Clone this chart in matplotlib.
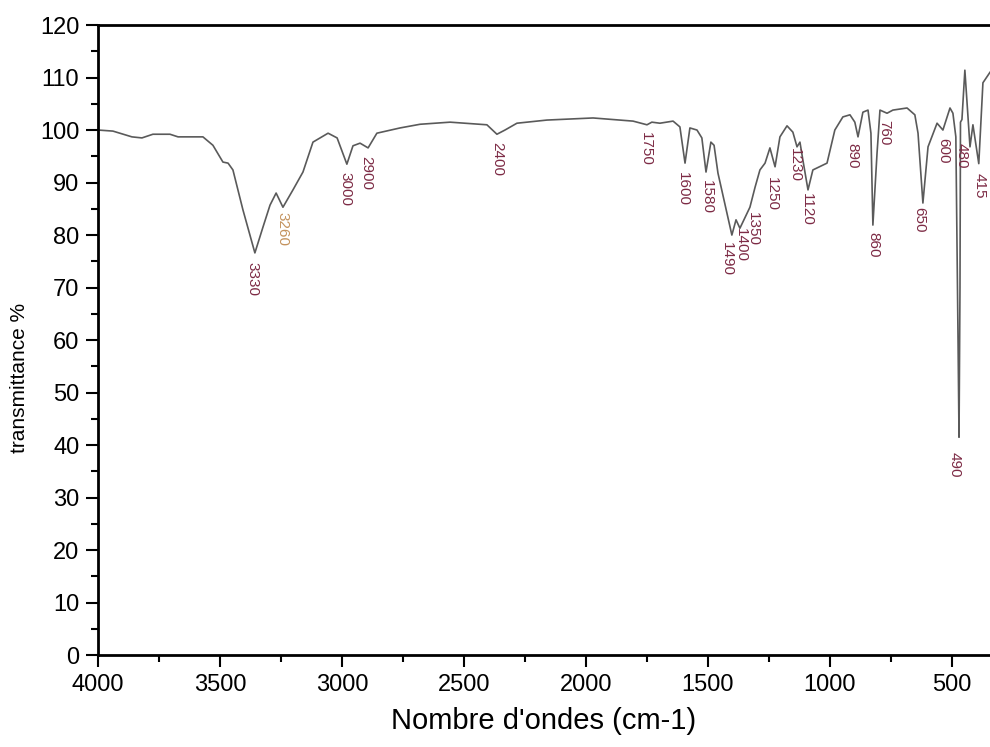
#!/usr/bin/env python
# coding: utf-8

import matplotlib
matplotlib.use('Agg')
import matplotlib.pyplot as plt
from matplotlib.ticker import MultipleLocator

# spectrum: wavenumber (cm-1) / transmittance (%)
wavenumber = [4000, 3939, 3861, 3820, 3775, 3705, 3672, 3570, 3529, 3488, 3467, 3447,
	3406, 3357, 3324, 3295, 3270, 3242, 3201, 3160, 3119, 3057, 3020, 2980, 2955,
	2926, 2893, 2857, 2762, 2680, 2557, 2406, 2365, 2332, 2283, 2160, 1971, 1807,
	1750, 1730, 1697, 1643, 1615, 1594, 1574, 1545, 1525, 1508, 1488, 1475, 1459,
	1402, 1385, 1369, 1328, 1307, 1287, 1266, 1246, 1225, 1205, 1176, 1152, 1135,
	1123, 1111, 1090, 1070, 1012, 980, 947, 918, 898, 885, 865, 844, 832, 824, 807,
	795, 766, 742, 684, 652, 639, 619, 598, 561, 537, 508, 496, 484, 475, 471, 467,
	465, 459, 447, 426, 414, 390, 373, 344]
transmittance = [100.0, 99.8, 98.7, 98.5, 99.2, 99.2, 98.7, 98.7, 97.1, 93.9, 93.7, 92.4,
	84.8, 76.6, 81.5, 85.7, 88.0, 85.3, 88.6, 92.0, 97.7, 99.4, 98.5, 93.5, 97.0,
	97.5, 96.6, 99.4, 100.4, 101.1, 101.5, 101.0, 99.2, 100.0, 101.3, 101.9, 102.3, 101.7,
	101.0, 101.5, 101.3, 101.7, 100.6, 93.7, 100.4, 100.0, 98.5, 92.0, 97.7, 97.1, 91.8,
	80.0, 82.9, 81.3, 85.3, 89.1, 92.4, 93.7, 96.6, 93.0, 98.7, 100.8, 99.6, 96.8,
	97.7, 94.3, 88.6, 92.4, 93.7, 100.0, 102.5, 102.9, 101.5, 98.7, 103.4, 103.8, 99.4, 81.9, 95.6,
	103.8, 103.2, 103.8, 104.2, 102.9, 99.4, 86.1, 96.8, 101.3, 100.0, 104.2, 103.2, 98.7, 60.0, 41.5, 70.0,
	101.5, 102.0, 111.4, 96.8, 101.0, 93.6, 109.0, 111.0]

# peak labels: text, x (cm-1), y of the top of the text (%)
peak_text = ['3330', '3260', '3000', '2900', '2400', '1750', '1600', '1580', '1490', '1400',
	'1350', '1250', '1230', '1120', '890', '860', '760', '650', '600', '480', '415', '490']
peak_x = [3365, 3242, 2984, 2902, 2365, 1754, 1602, 1504, 1422, 1366,
	1314, 1238, 1143, 1094, 910, 824, 779, 635, 537, 459, 385, 488]
peak_y = [74.9, 84.4, 92.0, 95.0, 97.7, 99.6, 92.0, 90.5, 78.7, 81.3,
	84.4, 91.0, 96.6, 88.0, 97.5, 80.6, 101.9, 85.3, 98.5, 97.5, 91.8, 38.7]

def main():
	plt.rcParams['font.family'] = ['Liberation Sans', 'DejaVu Sans']
	fig = plt.figure(figsize=(9.9, 7.47), dpi=100)
	ax = fig.add_axes([0.099, 0.123, 0.901, 0.8435])

	ax.plot(wavenumber, transmittance, color='#5a5a5a', lw=1.2)

	for t, x, y in zip(peak_text, peak_x, peak_y):
		col = '#c4935e' if t == '3260' else '#7d2b45'
		ax.text(x, y, t, rotation=270, ha='center', va='top', fontsize=11, color=col)

	ax.set_xlim(4000, 344)
	ax.set_ylim(0, 120)
	ax.xaxis.set_major_locator(MultipleLocator(500))
	ax.xaxis.set_minor_locator(MultipleLocator(250))
	ax.yaxis.set_major_locator(MultipleLocator(10))
	ax.yaxis.set_minor_locator(MultipleLocator(5))
	ax.tick_params(which='major', direction='out', length=8.5, width=1.5, labelsize=17, pad=5)
	ax.tick_params(which='minor', direction='out', length=5, width=1.5)
	ax.spines['right'].set_visible(False)
	for s in ['left', 'bottom', 'top']:
		ax.spines[s].set_linewidth(2)

	ax.set_xlabel("Nombre d'ondes (cm-1)", fontsize=21, labelpad=8)
	ax.set_ylabel('transmittance %', fontsize=15)
	ax.yaxis.set_label_coords(-0.077, 0.44)

	fig.savefig('out.png', dpi=100)

if __name__ == '__main__':
	main()
